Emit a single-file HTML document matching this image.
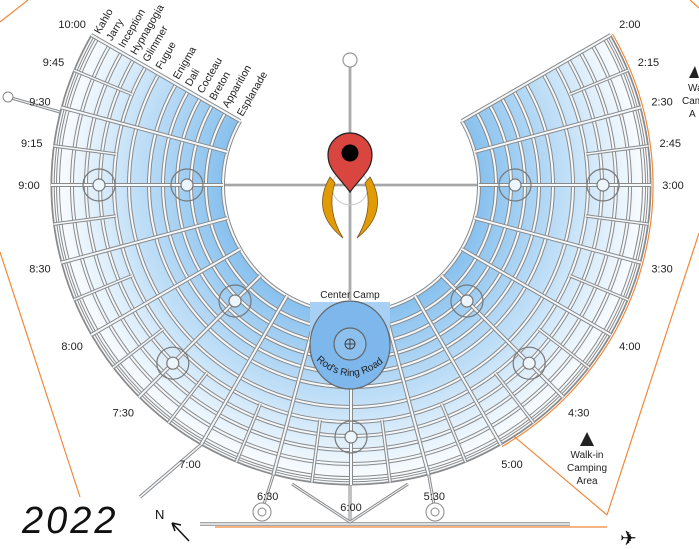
<!DOCTYPE html>
<html><head><meta charset="utf-8"><style>
html,body{margin:0;padding:0;background:#fff;width:699px;height:549px;overflow:hidden}
svg{display:block;font-family:"Liberation Sans",sans-serif}
</style></head><body>
<svg id="map" width="699" height="549" viewBox="0 0 699 549">
<defs>
<radialGradient id="fillg" gradientUnits="userSpaceOnUse" cx="351" cy="185" r="300">
<stop offset="0.42" stop-color="#86c0ee"/><stop offset="0.75" stop-color="#c6e2f8"/><stop offset="1" stop-color="#ffffff"/>
</radialGradient>
</defs>
<g id="perimeter" stroke="#f0883a" stroke-width="1.2" fill="none">
<line x1="0" y1="252" x2="80" y2="497"/>
<line x1="0" y1="22" x2="28" y2="0"/>
<line x1="690" y1="0" x2="699" y2="8"/>
<line x1="699" y1="233" x2="607" y2="515"/>
<line x1="503" y1="427" x2="607" y2="515"/>
<line x1="215" y1="527" x2="607" y2="527"/>
</g>
<g id="roads-outside"></g>
<g id="city"></g>
<g id="labels"></g>
</svg>
<script>
const NS="http://www.w3.org/2000/svg";
const ringNames=["Esplanade","Apparition","Breton","Cocteau","Dali","Enigma","Fugue","Glimmer","Hypnagogia","Inception","Jarry","Kahlo"];
const ringRadii=[128,145,160,174,188,202,222,237,251,265,279,293];
const clockLabels=["2:00","2:15","2:30","2:45","3:00","3:30","4:00","4:30","5:00","5:30","6:00","6:30","7:00","7:30","8:00","8:30","9:00","9:15","9:30","9:45","10:00"];
const clockHours=[2,2.25,2.5,2.75,3,3.5,4,4.5,5,5.5,6,6.5,7,7.5,8,8.5,9,9.25,9.5,9.75,10];
const plazaHours=[3,3,4.5,4.5,7.5,7.5,9,9,6];
const plazaRadii=[164,252,164,252,164,252,164,252,252];
const CX=351,CY=185,RO=300,RI=128;
const ang=h=>(h-3)*30*Math.PI/180;
const pt=(h,r)=>[CX+r*Math.cos(ang(h)),CY+r*Math.sin(ang(h))];
function mk(tag,attrs,parent){const e=document.createElementNS(NS,tag);for(const k in attrs)e.setAttribute(k,attrs[k]);parent.appendChild(e);return e;}
const city=document.getElementById('city'),labels=document.getElementById('labels'),outside=document.getElementById('roads-outside');
function arcPath(r,h0,h1){const a=pt(h0,r),b=pt(h1,r);const large=(h1-h0)*30>180?1:0;return `M${a[0]},${a[1]} A${r},${r} 0 ${large} 1 ${b[0]},${b[1]}`;}
function road(d,parent,w){mk('path',{d:d,fill:'none',stroke:'#8a8a8a','stroke-width':w||4.5},parent);mk('path',{d:d,fill:'none',stroke:'#f4f9fe','stroke-width':(w||4.5)-2},parent);}
// access roads
road(`M${pt(7,RO)} L140,497`,outside,3.5);
road('M200,524 L570,524',outside,3.5);
road('M350,480 L350,522',outside,3);
road('M292,484 L350,522 L408,484',outside,3);
road(`M${pt(6.5,RO)} L262,510`,outside,3);
road(`M${pt(5.5,RO)} L435,510`,outside,3);
[262,435].forEach(x=>{const c=mk('circle',{cx:x,cy:512,r:9,fill:'#fff',stroke:'#888','stroke-width':1},outside);mk('circle',{cx:x,cy:512,r:4,fill:'none',stroke:'#888','stroke-width':1},outside);});
road('M8,97 L98,123',outside,3);
mk('circle',{cx:8,cy:97,r:5,fill:'#fff',stroke:'#888'},outside);
// 12:00 and center lines
road('M350,67 L350,300',outside,2.6);
road(`M${pt(9,RI)} L${pt(3,RI)}`,outside,2.6);
mk('circle',{cx:350,cy:60,r:7,fill:'#fff',stroke:'#999','stroke-width':1.2},outside);
// fill sector
const o0=pt(2,RO),o1=pt(10,RO),i1=pt(10,RI),i0=pt(2,RI);
const sector=mk('path',{d:`M${o0} A${RO},${RO} 0 1 1 ${o1} L${i1} A${RI},${RI} 0 1 0 ${i0} Z`,fill:'url(#fillg)',stroke:'#888','stroke-width':1},city);


// outer orange arc on right
mk('path',{d:arcPath(RO+2,2,5),fill:'none',stroke:'#f0883a','stroke-width':1.2},city);
// rings
ringRadii.forEach((r,i)=>{const g=mk('g',{},city);road(arcPath(r,2,10),g,4);});
road(arcPath(RO-2,2,10),city,3.5);
// radials
for(let q=0;q<=32;q++){const h=2+q*0.25;const half=(q%2===0);const r0=half?RI:ringRadii[7];const a=pt(h,r0),b=pt(h,RO);const g=mk('g',{},city);road(`M${a} L${b}`,g,half?4:3.5);}
// plazas
plazaHours.forEach((h,i)=>{const [x,y]=pt(h,plazaRadii[i]);const g=mk('g',{},city);mk('circle',{cx:x,cy:y,r:16,fill:'none',stroke:'#777','stroke-width':1.2},g);mk('circle',{cx:x,cy:y,r:6,fill:'#eef6fd',stroke:'#777','stroke-width':1.2},g);});
// center camp
const cc=mk('g',{},city);
mk('rect',{x:310,y:302,width:80,height:30,fill:'#a8d0f4'},cc);
mk('ellipse',{cx:350,cy:345,rx:40,ry:44,fill:'#7db7ec',stroke:'#666','stroke-width':1.2},cc);
mk('circle',{cx:350,cy:344,r:16,fill:'#8cc0ee',stroke:'#666','stroke-width':1.2},cc);
mk('circle',{cx:350,cy:344,r:5,fill:'none',stroke:'#444','stroke-width':1},cc);
mk('path',{d:'M345,344 H355 M350,339 V349',stroke:'#444','stroke-width':1},cc);
// clock labels
clockLabels.forEach((t,i)=>{const [x,y]=pt(clockHours[i],RO+22);const e=mk('text',{x:x,y:y+4,'font-size':11,fill:'#222','text-anchor':'middle'},labels);e.textContent=t;});
// ring name labels along 10:00
ringNames.forEach((n,i)=>{const [x,y]=pt(10,ringRadii[i]+4);const e=mk('text',{x:x+6,y:y-2,'font-size':10.5,fill:'#222',transform:`rotate(-60 ${x+6} ${y-2})`},labels);e.textContent=n;});
</script>
<svg width="699" height="549" style="position:absolute;left:0;top:0">
<text x="350" y="298" font-size="10" text-anchor="middle" fill="#222" font-family="Liberation Sans,sans-serif">Center Camp</text>
<path id="rrr" d="M316,360 Q350,392 386,360" fill="none"/>
<text font-size="10" fill="#222" font-family="Liberation Sans,sans-serif"><textPath href="#rrr">Rod's Ring Road</textPath></text>
<g>
<circle cx="350" cy="187" r="18" fill="none" stroke="#ccc" stroke-width="1"/>
<path d="M330,177 Q310,212 343,238 Q326,210 335,183 Z" fill="#e29a05" stroke="#7a5a20" stroke-width="0.8"/>
<path d="M370,177 Q390,212 357,238 Q374,210 365,183 Z" fill="#e29a05" stroke="#7a5a20" stroke-width="0.8"/>
<path d="M350,192 C339,177 328,170 328,155 A22,22 0 1 1 372,155 C372,170 361,177 350,192 Z" fill="#d94640" stroke="#222" stroke-width="1.2"/>
<circle cx="350" cy="153" r="8.5" fill="#000"/>
</g>
<g font-family="Liberation Sans,sans-serif" font-size="10" fill="#222" text-anchor="middle">
<path d="M580,446 L587,432 L594,446 Z" fill="#222"/>
<text x="587" y="458">Walk-in</text><text x="587" y="471">Camping</text><text x="587" y="484">Area</text>
</g>
<g font-family="Liberation Sans,sans-serif" font-size="10" fill="#222">
<path d="M689,78 L695,66 L699,78 Z" fill="#222"/>
<text x="688" y="91">Wa</text><text x="682" y="104">Cam</text><text x="689" y="117">A</text>
</g>
<text x="22" y="533" font-size="38" font-style="italic" fill="#111" font-family="Liberation Sans,sans-serif" letter-spacing="3">2022</text>
<g>
<text x="155" y="519" font-size="13" fill="#111" font-family="Liberation Sans,sans-serif">N</text>
<path d="M189,541 L172,523 M172,523 L181,525 M172,523 L175,531" stroke="#111" stroke-width="1.5" fill="none"/>
</g>
<text x="620" y="545" font-size="20" fill="#111">✈</text>
</svg>
</body></html>
